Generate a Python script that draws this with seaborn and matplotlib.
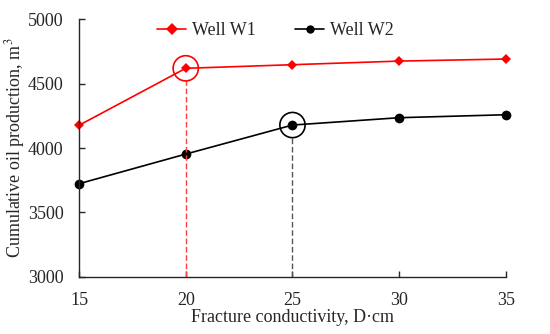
import matplotlib
matplotlib.use("Agg")
import matplotlib.pyplot as plt
import seaborn as sns
import pandas as pd

# datos
conductividad = [15, 20, 25, 30, 35]
pozo_w1 = [4176, 4618, 4646, 4674, 4690]
pozo_w2 = [3723, 3953, 4178, 4235, 4258]

# puntos óptimos marcados con círculo
optimo_w1 = (20, 4618)
optimo_w2 = (25, 4178)

sns.set_theme(style="ticks")
plt.rcParams["font.family"] = ["Liberation Serif", "DejaVu Serif"]
plt.rcParams["mathtext.fontset"] = "stix"

df = pd.DataFrame({
    "x": conductividad * 2,
    "y": pozo_w1 + pozo_w2,
    "pozo": ["Well W1"] * 5 + ["Well W2"] * 5,
})

fig = plt.figure(figsize=(5.5, 3.34), dpi=100)
ax = fig.add_axes([0.1436, 0.1707, 0.7764, 0.7723])

sns.lineplot(data=df, x="x", y="y", hue="pozo", style="pozo",
             palette={"Well W1": "#ff0000", "Well W2": "#000000"},
             markers={"Well W1": "D", "Well W2": "o"},
             dashes=False, linewidth=1.2, markeredgewidth=0,
             ax=ax)
# tamaños de marcador
for ln, ms in zip(ax.lines[:2], [5, 7]):
    ln.set_markersize(ms)

# círculos alrededor de los puntos óptimos
ax.scatter([optimo_w1[0]], [optimo_w1[1]], s=330, facecolors="none",
           edgecolors="#ff0000", linewidths=1.2, zorder=5)
ax.scatter([optimo_w2[0]], [optimo_w2[1]], s=330, facecolors="none",
           edgecolors="#000000", linewidths=1.2, zorder=5)

# líneas discontinuas verticales hasta el eje
ax.vlines(optimo_w1[0], 3000, optimo_w1[1] - 95, colors="#ff4040",
          linestyles=(0, (4, 2)), linewidth=1.0)
ax.vlines(optimo_w2[0], 3000, optimo_w2[1] - 95, colors="#555555",
          linestyles=(0, (4, 2)), linewidth=1.0)

ax.set_xlim(15, 35)
ax.set_ylim(3000, 5000)
ax.set_xticks([15, 20, 25, 30, 35])
ax.set_yticks([3000, 3500, 4000, 4500, 5000])
ax.tick_params(direction="in", length=4, width=1, labelsize=13)
ax.tick_params(axis="x", pad=11)
ax.tick_params(axis="y", pad=11)
ax.set_xlabel("Fracture conductivity, D·cm", fontsize=13, labelpad=0)
ax.set_ylabel("Cumulative oil production, m$^3$", fontsize=13, labelpad=1)
ax.spines["top"].set_visible(False)
ax.spines["right"].set_visible(False)
for s in ["left", "bottom"]:
    ax.spines[s].set_linewidth(1.0)
ax.margins(0)
for t in ax.lines[:2]:
    t.set_clip_on(False)

handles, labels = ax.get_legend_handles_labels()
ax.legend(handles, labels, loc="upper center", ncol=2, frameon=False,
          fontsize=13, handlelength=1.6, columnspacing=2.2,
          bbox_to_anchor=(0.46, 1.05), handletextpad=0.3)

fig.savefig("out.png", dpi=100)
